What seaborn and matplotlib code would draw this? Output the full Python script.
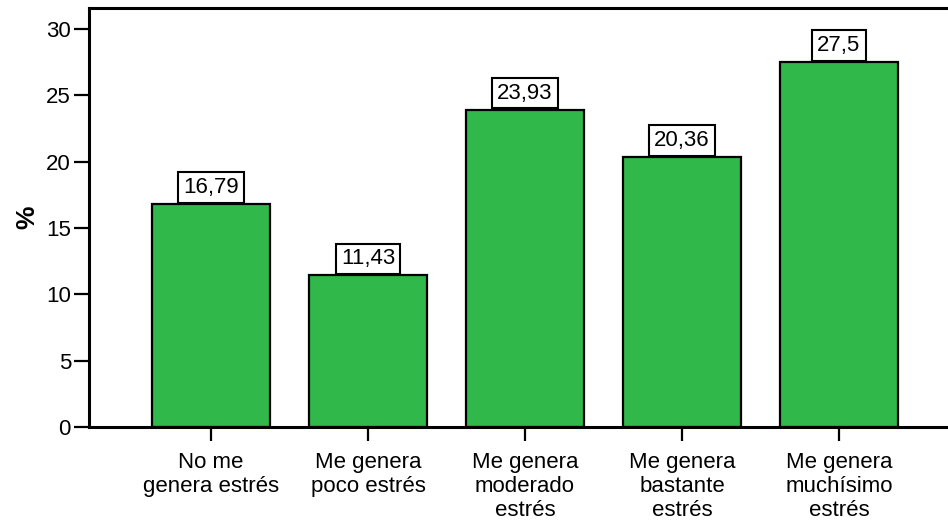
import seaborn as sns
import matplotlib.pyplot as plt
import pandas as pd

categories = [
    "No me\ngenera estrés",
    "Me genera\npoco estrés",
    "Me genera\nmoderado\nestrés",
    "Me genera\nbastante\nestrés",
    "Me genera\nmuchísimo\nestrés",
]
values = [16.79, 11.43, 23.93, 20.36, 27.5]
value_labels = ["16,79", "11,43", "23,93", "20,36", "27,5"]
y_ticks = [0, 5, 10, 15, 20, 25, 30]

sns.set_style("ticks", {"axes.edgecolor": "black", "text.color": "black",
                        "xtick.color": "black", "ytick.color": "black",
                        "axes.labelcolor": "black"})
plt.rcParams["font.family"] = ["Liberation Sans", "DejaVu Sans"]

df = pd.DataFrame({"cat": categories, "pct": values})

fig = plt.figure(figsize=(9.48, 5.29), dpi=100)
# right edge runs a little past the image, like the original export
ax = fig.add_axes([0.0939, 0.1928, 0.9198, 0.7912])

sns.barplot(
    data=df, x="cat", y="pct", ax=ax,
    color="#30b84a", saturation=1, width=0.75,
    edgecolor="black", linewidth=1.6,
)

ax.set_xlim(-0.777, 4.777)
ax.set_ylim(0, 31.55)
ax.set_yticks(y_ticks)
ax.set_xlabel("")
ax.set_ylabel("%", fontsize=19, fontweight="bold", labelpad=5)

for i, (v, lab) in enumerate(zip(values, value_labels)):
    ax.annotate(
        lab,
        xy=(i, v), xytext=(0, 4.3), textcoords="offset points",
        ha="center", va="bottom", fontsize=16,
        bbox=dict(boxstyle="square,pad=0.22", fc="white", ec="black", lw=1.5),
    )

for s in ax.spines.values():
    s.set_linewidth(2.2)
ax.tick_params(axis="y", length=11, width=1.6, labelsize=16, pad=2)
ax.tick_params(axis="x", length=10, width=1.6, labelsize=16, pad=8)

plt.savefig("out.png", dpi=100)
plt.close()
